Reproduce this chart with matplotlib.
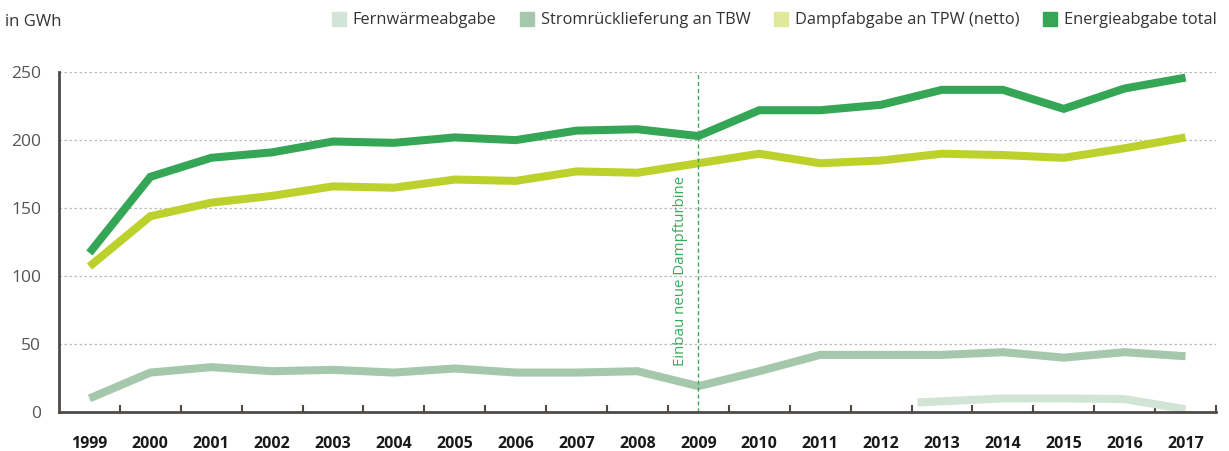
import numpy as np
import matplotlib.pyplot as plt

plt.rcParams['font.family'] = ['Open Sans', 'DejaVu Sans']

# data (GWh)
years = list(range(1999, 2018))
energie_total = [117, 173, 187, 191, 199, 198, 202, 200, 207, 208, 203,
                 222, 222, 226, 237, 237, 223, 238, 246]
dampf_tpw = [107, 144, 154, 159, 166, 165, 171, 170, 177, 176, 183,
             190, 183, 185, 190, 189, 187, 194, 202]
strom_tbw = [10, 29, 33, 30, 31, 29, 32, 29, 29, 30, 19,
             30, 42, 42, 42, 44, 40, 44, 41]
fern_years = [2012.6, 2014, 2015, 2016, 2017]
fernwaerme = [7, 10, 10, 9.5, 2]

c_fern = '#d2e4d5'
c_strom = '#a5c8ad'
c_dampf = '#bcd12b'
c_total = '#35a656'

fig = plt.figure(figsize=(12.29, 4.51), dpi=100)
ax = fig.add_axes([0.048, 0.0865, 0.9414, 0.7535])

x = np.arange(len(years))
fx = np.array(fern_years) - years[0]
lw = 5.8
ax.plot(fx, fernwaerme, color=c_fern, lw=lw, solid_capstyle='butt', solid_joinstyle='miter')
ax.plot(x, strom_tbw, color=c_strom, lw=lw, solid_capstyle='butt', solid_joinstyle='miter')
ax.plot(x, dampf_tpw, color=c_dampf, lw=lw, solid_capstyle='butt', solid_joinstyle='miter')
ax.plot(x, energie_total, color=c_total, lw=lw, solid_capstyle='butt', solid_joinstyle='miter')

# marker for the new steam turbine
i09 = years.index(2009)
ax.axvline(i09, color='#3aaa5c', lw=1, ls=(0, (3, 2)))
ax.text(i09 - 0.3, 34, 'Einbau neue Dampfturbine', rotation=90, color='#3aaa5c',
        fontsize=10.8, ha='center', va='bottom')

ax.set_xlim(-0.5, len(years) - 0.5)
ax.set_ylim(0, 250)

ax.set_xticks(x + 0.5)
ax.set_xticklabels([])
ax.set_xticks(x, minor=True)
ax.set_xticklabels([str(y) for y in years], minor=True, fontsize=11.5, fontweight='bold')
ax.tick_params(axis='x', which='major', direction='in', length=5, width=1.5, color='#4d4a48')
ax.tick_params(axis='x', which='minor', length=0, pad=17, labelcolor='#1a1a1a')

ax.set_yticks([0, 50, 100, 150, 200, 250])
ax.tick_params(axis='y', length=0, pad=13, labelsize=12.5, labelcolor='#555555')
ax.yaxis.grid(True, ls=(0, (2, 2)), color='#bbbbbb', lw=0.9)
ax.set_axisbelow(True)

for s in ['top', 'right']:
    ax.spines[s].set_visible(False)
for s in ['left', 'bottom']:
    ax.spines[s].set_color('#4d4a48')
    ax.spines[s].set_linewidth(2)

fig.text(0.004, 0.952, 'in GWh', fontsize=12, color='#333333', va='center')

# legend
handles = [plt.Line2D([], [], marker='s', ls='', ms=10, color=c)
           for c in ['#d2e4d5', '#a5c8ad', '#e0e899', c_total]]
labels = ['Fernwärmeabgabe', 'Stromrücklieferung an TBW',
          'Dampfabgabe an TPW (netto)', 'Energieabgabe total']
fig.legend(handles, labels, loc='center right', bbox_to_anchor=(0.995, 0.955), ncol=4,
           frameon=False, fontsize=11.8, handletextpad=-0.15, columnspacing=0.85,
           labelcolor='#333333', borderaxespad=0)

fig.savefig('out.png', dpi=100)
